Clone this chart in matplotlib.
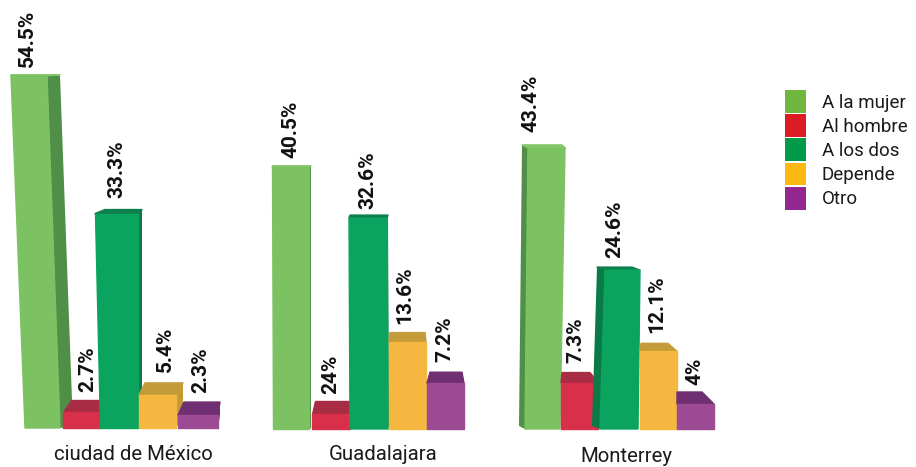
#plotting
import matplotlib
matplotlib.use("Agg")
import matplotlib.pyplot as plt
from matplotlib.patches import Patch

#data
series = ["A la mujer", "Al hombre", "A los dos", "Depende", "Otro"]
cities = ["ciudad de México", "Guadalajara", "Monterrey"]
mexico = [54.5, 2.7, 33.3, 5.4, 2.3]
guadalajara = [40.5, 2.4, 32.6, 13.6, 7.2]
monterrey = [43.4, 7.3, 24.6, 12.1, 4.0]
mexico_labels = ["54.5%", "2.7%", "33.3%", "5.4%", "2.3%"]
guadalajara_labels = ["40.5%", "24%", "32.6%", "13.6%", "7.2%"]
monterrey_labels = ["43.4%", "7.3%", "24.6%", "12.1%", "4%"]

#colours: front, side, top and the flat legend colour
front = ["#7CC262", "#D8304A", "#0AA45F", "#F5B740", "#9B4A93"]
side = ["#4F8F48", "#A82B42", "#0A7A47", "#C49A35", "#6E2F6C"]
top = ["#86C76C", "#A82C44", "#0B7F4C", "#C39B38", "#6F2F70"]
legend_col = ["#70B73F", "#DC1C24", "#009A4A", "#FDB813", "#93278F"]

PX_PER_PCT = 6.5
BASE_PX = 430
W, H = 916, 467

#shape of each bar in pixels: base left, base right, top left, top right,
#back shift left, back shift right, depth up, label x, gap to label
mexico_geo = [
    (25, 60, 11, 47, 0, 13, 1, 27, 8),
    (63, 100, 63, 100, 8, 0, 12, 88, 8),
    (100, 138, 95, 138, 10, 4, 4, 117, 12),
    (139, 176, 139, 176, 6, 7, 12, 165, 11),
    (178, 218, 178, 218, 6, 2, 13, 201, 9),
]
guadalajara_geo = [
    (273, 309, 272, 309, 1, 2, 1, 291, 8),
    (312, 350, 312, 350, 3, 0, 13, 331, 7),
    (350, 388, 349, 387, 1, 1, 3, 368, 6),
    (389, 426, 389, 426, 1, -1, 9, 405, 9),
    (427, 464, 427, 464, 3, -2, 11, 445, 10),
]
monterrey_geo = [
    (525, 560, 528, 565, -6, -3, 3, 531, 13),
    (561, 598, 561, 598, 1, -8, 10, 576, 10),
    (600, 638, 605, 640, -8, -8, 3, 615, 9),
    (640, 677, 640, 677, 1, -9, 8, 657, 10),
    (677, 714, 677, 714, 0, -12, 12, 695, 7),
]
#how far the block bottoms sit above the common zero line, pixels
group_lift = [2, 1, 1]
city_x = [133, 383, 626]
city_y = [455, 455, 457]

fig = plt.figure(figsize=(W / 100, H / 100), dpi=100)
ax = fig.add_axes([0, 0, 1, 1])
ax.set_xlim(0, W)
ax.set_ylim((BASE_PX - H) / PX_PER_PCT, BASE_PX / PX_PER_PCT)
ax.axis("off")
plt.rcParams["font.family"] = "Roboto"


def draw_bar(v, geo, i, lift):
    #front face with a darker side and top so it reads as a 3d block
    xlb, xrb, xlt, xrt, dxl, dxr, dy, lx, gap = geo
    d = dy / PX_PER_PCT
    b = lift / PX_PER_PCT
    if dxr > 0:
        ax.fill([xrb, xrt, xrt + dxr, xrb + dxr], [b, v, v + d, b + d], color=side[i], lw=0)
    if dxl < 0:
        ax.fill([xlb, xlt, xlt + dxl, xlb + dxl], [b, v, v + d, b + d], color=side[i], lw=0)
    ax.fill([xlt, xrt, xrt + dxr, xlt + dxl], [v, v, v + d, v + d], facecolor=top[i],
            edgecolor=top[i], lw=1, joinstyle="round")
    ax.fill([xlb, xrb, xrt, xlt], [b, b, v, v], facecolor=front[i], edgecolor=front[i],
            lw=1, joinstyle="round")


def draw_group(values, labels, geos, lift):
    for i in range(len(values)):
        draw_bar(values[i], geos[i], i, lift)
    for i in range(len(values)):
        g = geos[i]
        ax.text(g[7], values[i] + (g[6] + g[8]) / PX_PER_PCT, labels[i], rotation=90,
                ha="center", va="bottom", fontsize=15, fontweight="bold", color="#111111")


draw_group(mexico, mexico_labels, mexico_geo, group_lift[0])
draw_group(guadalajara, guadalajara_labels, guadalajara_geo, group_lift[1])
draw_group(monterrey, monterrey_labels, monterrey_geo, group_lift[2])

for i in range(len(cities)):
    ax.text(city_x[i], (BASE_PX - city_y[i]) / PX_PER_PCT, cities[i], ha="center", va="center",
            fontsize=14.7, color="#1a1a1a")

handles = [Patch(facecolor=legend_col[i], label=series[i]) for i in range(len(series))]
fig.legend(handles=handles, loc="upper left", bbox_to_anchor=(785 / W, 1 - 90 / H), frameon=False,
           fontsize=13.5, borderpad=0, borderaxespad=0, handlelength=1.13, handleheight=1.5,
           labelspacing=0.07, handletextpad=0.82, labelcolor="#1a1a1a")

fig.savefig("out.png", dpi=100)
